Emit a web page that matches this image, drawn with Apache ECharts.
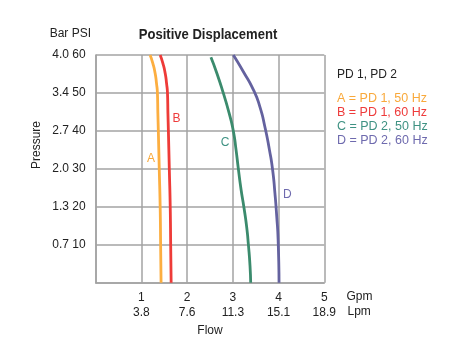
<!DOCTYPE html>
<html><head><meta charset="utf-8">
<script src="https://cdn.jsdelivr.net/npm/echarts@6/dist/echarts.min.js"></script>
<style>html,body{margin:0;padding:0;background:#fff}#c{width:458px;height:364px}</style>
</head><body><div id="c"></div>
<script>
// Flow (Gpm) vs Pressure (PSI) curves
const curveA = [[1.19,60],[1.25,57.8],[1.30,55.2],[1.33,52.5],[1.35,50],[1.36,44.6],[1.37,40],[1.39,30],[1.41,20],[1.42,10],[1.43,0]];
const curveB = [[1.41,60],[1.47,57.8],[1.52,55.2],[1.55,52.5],[1.57,50],[1.58,44.6],[1.59,40],[1.61,30],[1.63,20],[1.64,10],[1.65,0]];
const curveC = [[2.52,59.4],[2.65,55.2],[2.79,50],[2.92,44.6],[3.01,40],[3.07,35],[3.12,30],[3.18,24.5],[3.24,20],[3.30,14.9],[3.34,10],[3.375,4.5],[3.39,0]];
const curveD = [[3.01,60],[3.23,55.6],[3.45,50.8],[3.59,46.4],[3.70,41.1],[3.80,35],[3.87,29.7],[3.92,23.6],[3.96,17.4],[3.99,11.3],[4.01,0]];
const curveNames = ['A','B','C','D'];
const curveLabelAt = [[1.21,32.6],[1.77,43.2],[2.83,36.9],[4.19,23.1]];
const legendLines = ['A = PD 1, 50 Hz','B = PD 1, 60 Hz','C = PD 2, 50 Hz','D = PD 2, 60 Hz'];
const gpmTicks = [1,2,3,4,5];
const lpmTicks = ['3.8','7.6','11.3','15.1','18.9'];
const psiTicks = [10,20,30,40,50,60];
const barTicks = ['0.7','1.3','2.0','2.7','3.4','4.0'];

const lineColors = ['#FCAE40','#EE3B38','#3B8B6D','#64629F'];
const textColors = ['#F9A93B','#EE3B3B','#3F9283','#6E6AAE'];
const curves = [curveA, curveB, curveC, curveD];
const FONT = "'Liberation Sans', Arial, sans-serif";

const chart = echarts.init(document.getElementById('c'), null, {renderer:'canvas'});
const gridColor = '#a3a3a3';
const option = {
  animation:false,
  textStyle:{fontFamily:FONT},
  grid:{left:95.7, right:133.7, top:55, bottom:81.3, containLabel:false},
  xAxis:{type:'value', min:0, max:5, interval:1,
    axisLine:{show:true, lineStyle:{color:gridColor, width:1.5}},
    axisTick:{show:false},
    splitLine:{show:true, lineStyle:{color:gridColor, width:1.5}},
    axisLabel:{margin:7, fontSize:12, color:'#222', lineHeight:15, fontFamily:FONT,
      formatter:function(v){const i=gpmTicks.indexOf(Math.round(v)); return i<0?'':gpmTicks[i]+'\n'+lpmTicks[i];}},
    name:'Flow', nameLocation:'middle', nameGap:39,
    nameTextStyle:{fontSize:12, color:'#222', fontFamily:FONT}
  },
  yAxis:{type:'value', min:0, max:60, interval:10,
    axisLine:{show:true, lineStyle:{color:gridColor, width:1.5}},
    axisTick:{show:false},
    splitLine:{show:true, lineStyle:{color:gridColor, width:1.5}},
    axisLabel:{margin:10, fontSize:12, color:'#222', fontFamily:FONT,
      formatter:function(v){const i=psiTicks.indexOf(Math.round(v)); return i<0?'':barTicks[i]+' '+psiTicks[i];}}
  },
  series: curves.map((c,i)=>({
    type:'line', data:c, smooth:0.6, symbol:'none', clip:false,
    lineStyle:{color:lineColors[i], width:2.8},
    markPoint:{symbol:'circle', symbolSize:1, silent:true,
      itemStyle:{color:'rgba(0,0,0,0)'},
      label:{show:true, position:'inside', formatter:curveNames[i], color:textColors[i], fontSize:12, fontFamily:FONT},
      data:[{coord:curveLabelAt[i], value:curveNames[i]}]}
  })),
  graphic:[
    {type:'text', x:208, y:35, scaleX:0.87, style:{text:'Positive Displacement', fill:'#222', font:"bold 15px 'Liberation Sans', Arial", textAlign:'center', textVerticalAlign:'middle'}},
    {type:'text', x:91, y:33.5, style:{text:'Bar PSI', fill:'#222', font:"12px "+FONT, textAlign:'right', textVerticalAlign:'middle'}},
    {type:'text', x:37, y:145, rotation:Math.PI/2, style:{text:'Pressure', fill:'#222', font:"12px "+FONT, textAlign:'center', textVerticalAlign:'middle'}},
    {type:'text', x:346.5, y:296.7, style:{text:'Gpm', fill:'#222', font:"12px "+FONT, textAlign:'left', textVerticalAlign:'middle'}},
    {type:'text', x:347.5, y:311.7, style:{text:'Lpm', fill:'#222', font:"12px "+FONT, textAlign:'left', textVerticalAlign:'middle'}},
    {type:'text', x:337, y:75, style:{text:'PD 1, PD 2', fill:'#222', font:"12px "+FONT, textAlign:'left', textVerticalAlign:'middle'}}
  ].concat(legendLines.map((t,i)=>({type:'text', x:337, y:98.7+14*i, style:{text:t, fill:textColors[i], font:"12.5px "+FONT, textAlign:'left', textVerticalAlign:'middle'}})))
};
chart.setOption(option);
</script>
</body></html>
